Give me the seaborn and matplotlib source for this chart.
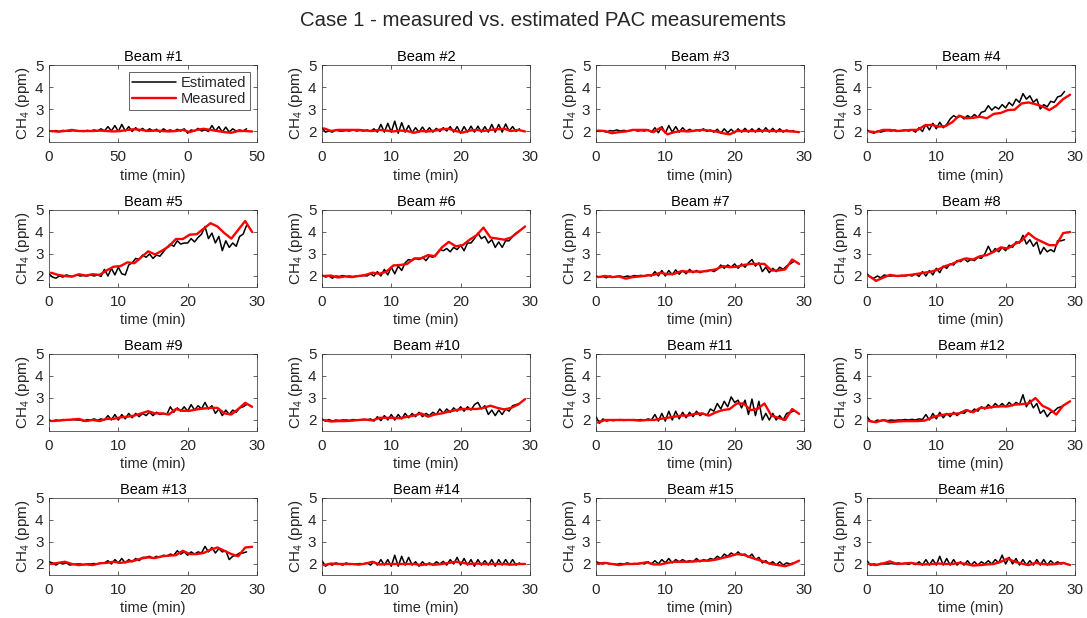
import matplotlib
matplotlib.use("Agg")
import matplotlib.pyplot as plt
import seaborn as sns

sns.set_theme(style="white")
plt.rcParams['font.family'] = ['Liberation Sans', 'DejaVu Sans']
plt.rcParams['mathtext.fontset'] = 'custom'
plt.rcParams['mathtext.rm'] = 'Liberation Sans'

# time grids (min)
t_est = [0, 0.5, 1, 1.5, 2, 2.5, 3, 3.5, 4, 4.5, 5, 5.5, 6, 6.5,
         7, 7.5, 8, 8.5, 9, 9.5, 10, 10.5, 11, 11.5, 12, 12.5, 13, 13.5,
         14, 14.5, 15, 15.5, 16, 16.5, 17, 17.5, 18, 18.5, 19, 19.5, 20, 20.5,
         21, 21.5, 22, 22.5, 23, 23.5, 24, 24.5, 25, 25.5, 26, 26.5, 27, 27.5, 28, 28.5]
t_meas = [0.3, 1.3, 2.3, 3.3, 4.3, 5.3, 6.3, 7.3, 8.3, 9.3, 10.3, 11.3, 12.3, 13.3, 14.3,
          15.3, 16.3, 17.3, 18.3, 19.3, 20.3, 21.3, 22.3, 23.3, 24.3, 25.3, 26.3, 27.3, 28.3, 29.3]

# estimated CH4 (ppm) per beam
est_1 = [2.0, 1.98, 2.02, 1.97, 2.03, 2.0, 2.0, 2.02, 2.0, 2.0, 1.98, 2.03, 2.0, 2.05,
         2.0, 2.1, 2.0, 2.2, 2.0, 2.25, 1.98, 2.3, 2.0, 2.2, 1.98, 2.15, 2.0, 2.12,
         1.98, 2.1, 2.0, 2.08, 1.95, 2.1, 2.0, 2.05, 1.98, 2.08, 2.0, 2.1, 1.9, 2.05,
         2.0, 2.12, 2.0, 2.05, 1.98, 2.25, 2.0, 2.2, 1.95, 2.18, 1.95, 2.1, 2.0, 2.05, 2.0, 2.1]
est_2 = [2.15, 1.95, 2.0, 1.95, 2.05, 2.0, 2.0, 2.02, 2.0, 2.05, 2.0, 2.03, 2.0, 2.05,
         1.98, 2.1, 1.95, 2.3, 1.95, 2.35, 1.95, 2.45, 1.9, 2.38, 1.95, 2.25, 1.92, 2.15,
         1.95, 2.18, 1.95, 2.15, 1.95, 2.12, 1.98, 2.15, 2.0, 2.2, 1.95, 2.2, 1.9, 2.2,
         1.95, 2.22, 1.95, 2.22, 1.95, 2.2, 1.95, 2.3, 1.95, 2.3, 1.95, 2.32, 2.0, 2.2, 1.98, 2.1]
est_3 = [2.0, 1.98, 2.0, 1.95, 2.02, 2.0, 2.05, 2.0, 2.03, 2.0, 2.02, 2.05, 2.0, 2.02,
         2.0, 2.05, 1.95, 2.15, 1.92, 2.2, 1.9, 2.25, 1.95, 2.2, 1.95, 2.15, 1.98, 2.08,
         1.98, 2.05, 2.0, 2.1, 1.98, 2.05, 1.95, 2.08, 1.9, 2.1, 1.92, 2.08, 1.92, 2.1,
         1.95, 2.12, 1.95, 2.1, 1.95, 2.12, 1.95, 2.15, 1.95, 2.12, 1.95, 2.1, 1.95, 2.05, 1.98, 2.02]
est_4 = [2.05, 1.95, 1.9, 2.0, 1.95, 2.0, 2.02, 2.0, 2.05, 2.0, 2.02, 2.05, 2.0, 2.05,
         1.95, 2.15, 1.98, 2.3, 2.05, 2.35, 2.1, 2.4, 2.15, 2.3, 2.55, 2.7, 2.6, 2.68,
         2.55, 2.7, 2.6, 2.75, 2.62, 2.85, 2.9, 3.15, 2.95, 3.1, 3.0, 3.2, 3.05, 3.3,
         3.15, 3.45, 3.3, 3.7, 3.45, 3.6, 3.3, 3.45, 3.0, 3.2, 3.1, 3.35, 3.3, 3.55, 3.6, 3.8]
est_5 = [2.1, 1.95, 1.9, 2.0, 1.95, 2.05, 2.0, 1.98, 2.05, 2.0, 2.02, 2.0, 2.05, 2.0,
         2.05, 1.98, 2.3, 2.0, 2.35, 2.05, 2.4, 2.1, 2.05, 2.5, 2.6, 2.8, 2.75, 2.95,
         2.85, 3.0, 2.8, 2.95, 2.9, 3.1, 3.3, 3.45, 3.35, 3.6, 3.45, 3.5, 3.5, 3.7,
         3.55, 3.75, 3.9, 4.25, 3.7, 3.95, 3.5, 3.8, 3.15, 3.6, 3.3, 3.5, 3.35, 3.8, 3.9, 4.3]
est_6 = [2.05, 1.95, 2.0, 1.9, 2.0, 1.98, 2.02, 1.98, 2.0, 1.97, 2.0, 2.0, 2.02, 2.0,
         2.1, 2.0, 2.2, 2.0, 2.3, 2.05, 2.4, 2.1, 2.45, 2.25, 2.6, 2.75, 2.7, 2.8,
         2.75, 2.85, 2.7, 2.9, 2.85, 3.0, 3.2, 3.15, 3.25, 3.1, 3.3, 3.2, 3.4, 3.15,
         3.5, 3.5, 3.7, 3.95, 3.7, 3.8, 3.5, 3.65, 3.3, 3.55, 3.3, 3.6, 3.6, 3.8, 3.95, 4.05]
est_7 = [2.0, 1.95, 1.98, 1.92, 2.0, 1.95, 1.98, 2.0, 1.95, 2.0, 1.97, 2.02, 2.0, 2.03,
         1.98, 2.05, 2.0, 2.2, 2.0, 2.25, 2.0, 2.25, 2.05, 2.28, 2.08, 2.25, 2.1, 2.3,
         2.15, 2.25, 2.15, 2.22, 2.2, 2.28, 2.2, 2.3, 2.5, 2.35, 2.5, 2.4, 2.55, 2.35,
         2.55, 2.4, 2.6, 2.75, 2.45, 2.6, 2.2, 2.4, 2.15, 2.35, 2.2, 2.4, 2.3, 2.45, 2.55, 2.65]
est_8 = [2.1, 1.95, 1.9, 2.0, 1.92, 2.05, 2.0, 2.0, 2.02, 1.98, 2.03, 2.0, 2.05, 2.0,
         2.1, 1.98, 2.2, 2.0, 2.25, 2.05, 2.35, 2.15, 2.45, 2.35, 2.55, 2.5, 2.7, 2.65,
         2.8, 2.65, 2.75, 2.7, 2.85, 2.8, 3.0, 3.35, 3.05, 3.25, 3.1, 3.3, 3.15, 3.4,
         3.3, 3.55, 3.5, 3.85, 3.45, 3.65, 3.35, 3.55, 3.0, 3.3, 3.1, 3.2, 3.1, 3.6, 3.6, 3.65]
est_9 = [2.0, 1.95, 2.0, 1.97, 2.02, 2.0, 2.0, 2.02, 2.0, 2.0, 1.95, 2.02, 2.0, 2.05,
         1.98, 2.05, 2.0, 2.2, 2.0, 2.25, 2.0, 2.25, 2.05, 2.3, 2.1, 2.3, 2.15, 2.3,
         2.2, 2.35, 2.2, 2.35, 2.25, 2.3, 2.25, 2.6, 2.35, 2.55, 2.4, 2.6, 2.4, 2.7,
         2.45, 2.65, 2.5, 2.8, 2.5, 2.65, 2.3, 2.5, 2.2, 2.45, 2.25, 2.45, 2.35, 2.55, 2.6, 2.7]
est_10 = [2.05, 1.95, 2.02, 1.95, 2.0, 1.98, 2.0, 2.0, 1.98, 2.02, 2.0, 2.0, 2.03, 2.0,
          2.05, 1.95, 2.15, 1.97, 2.2, 2.0, 2.25, 2.0, 2.25, 2.05, 2.3, 2.1, 2.3, 2.15,
          2.35, 2.15, 2.3, 2.2, 2.35, 2.25, 2.5, 2.3, 2.5, 2.35, 2.55, 2.4, 2.6, 2.4,
          2.6, 2.45, 2.7, 2.8, 2.5, 2.65, 2.25, 2.45, 2.2, 2.45, 2.25, 2.5, 2.4, 2.65, 2.7, 2.75]
est_11 = [2.15, 1.85, 2.05, 1.95, 2.0, 1.97, 2.0, 2.02, 1.98, 2.0, 2.0, 2.02, 2.0, 2.02,
          1.98, 2.05, 2.0, 2.25, 1.95, 2.3, 1.95, 2.4, 2.0, 2.4, 2.05, 2.35, 2.1, 2.35,
          2.15, 2.4, 2.2, 2.3, 2.2, 2.5, 2.4, 2.75, 2.5, 2.85, 2.6, 3.05, 2.8, 2.9,
          2.55, 2.9, 2.25, 2.95, 2.2, 2.85, 2.0, 2.3, 2.0, 2.3, 2.0, 2.2, 2.0, 2.3, 2.35, 2.4]
est_12 = [2.15, 1.95, 1.9, 2.0, 1.95, 2.0, 1.97, 2.0, 1.98, 2.0, 2.0, 2.02, 2.0, 2.03,
          2.0, 2.05, 2.02, 2.25, 2.0, 2.3, 2.05, 2.35, 2.1, 2.3, 2.15, 2.35, 2.2, 2.35,
          2.3, 2.45, 2.35, 2.5, 2.4, 2.6, 2.5, 2.7, 2.55, 2.75, 2.6, 2.75, 2.6, 2.8,
          2.65, 2.8, 2.7, 3.15, 2.6, 2.9, 2.55, 2.75, 2.3, 2.45, 2.15, 2.35, 2.4, 2.55, 2.6, 2.7]
est_13 = [2.1, 2.05, 1.95, 2.05, 2.0, 2.05, 1.95, 1.98, 2.0, 2.0, 1.97, 2.0, 2.0, 2.02,
          2.0, 2.05, 2.05, 2.15, 2.0, 2.2, 2.05, 2.25, 2.05, 2.2, 2.1, 2.25, 2.15, 2.3,
          2.3, 2.35, 2.25, 2.35, 2.3, 2.4, 2.35, 2.45, 2.4, 2.6, 2.45, 2.55, 2.4, 2.55,
          2.45, 2.55, 2.5, 2.8, 2.55, 2.75, 2.5, 2.7, 2.55, 2.6, 2.2, 2.35, 2.4, 2.5, 2.5, 2.55]
est_14 = [2.15, 1.9, 2.0, 1.95, 2.05, 2.0, 1.95, 2.05, 1.98, 2.0, 2.0, 2.02, 2.0, 2.05,
          1.95, 2.1, 1.95, 2.2, 1.95, 2.2, 1.9, 2.4, 1.9, 2.35, 1.95, 2.3, 1.95, 2.1,
          1.9, 2.1, 1.95, 2.05, 1.95, 2.1, 2.0, 2.12, 1.95, 2.2, 2.0, 2.3, 1.95, 2.25,
          1.95, 2.2, 1.9, 2.2, 1.95, 2.15, 1.95, 2.2, 1.9, 2.2, 1.95, 2.2, 1.95, 2.2, 1.95, 2.05]
est_15 = [2.1, 2.05, 2.0, 2.05, 2.0, 2.0, 1.98, 2.02, 2.0, 2.05, 2.0, 2.02, 2.0, 2.05,
          2.0, 2.1, 2.0, 2.15, 2.0, 2.2, 2.05, 2.25, 2.05, 2.2, 2.1, 2.2, 2.1, 2.15,
          2.1, 2.25, 2.1, 2.2, 2.15, 2.25, 2.2, 2.35, 2.25, 2.45, 2.35, 2.5, 2.4, 2.55,
          2.4, 2.45, 2.3, 2.45, 2.2, 2.3, 2.05, 2.15, 2.0, 2.1, 1.95, 2.1, 1.95, 2.05, 2.0, 2.05]
est_16 = [2.15, 1.95, 2.0, 1.97, 2.03, 2.0, 2.0, 2.02, 2.0, 2.05, 2.0, 2.03, 1.98, 2.05,
          1.97, 2.1, 1.95, 2.2, 1.95, 2.2, 1.95, 2.35, 1.95, 2.25, 1.95, 2.2, 1.95, 2.1,
          1.95, 2.15, 1.95, 2.1, 1.95, 2.1, 2.0, 2.15, 2.0, 2.2, 2.05, 2.4, 2.0, 2.3,
          2.0, 2.25, 1.95, 2.2, 1.95, 2.15, 1.95, 2.2, 1.95, 2.2, 1.95, 2.15, 2.0, 2.1, 2.0, 2.05]

# measured CH4 (ppm) per beam
meas_1 = [2.0, 1.97, 2.0, 2.05, 2.0, 2.0, 2.0, 2.02, 2.0, 1.98, 2.0, 2.05, 2.08, 2.05, 2.0,
          2.02, 2.0, 1.98, 2.0, 2.05, 1.95, 2.05, 2.1, 2.05, 2.0, 1.95, 1.92, 2.0, 2.0, 1.98]
meas_2 = [2.12, 2.0, 2.05, 2.05, 2.05, 2.05, 2.02, 2.0, 2.05, 2.02, 1.98, 2.02, 2.0, 1.92, 2.0,
          1.98, 2.02, 2.08, 2.1, 2.0, 1.93, 2.02, 2.05, 2.0, 2.05, 2.08, 2.1, 2.0, 2.05, 1.98]
meas_3 = [2.02, 2.0, 1.9, 1.95, 1.98, 2.05, 2.05, 2.05, 1.95, 2.15, 1.85, 1.95, 2.0, 1.98, 2.02,
          2.05, 2.02, 1.98, 1.9, 1.85, 2.0, 2.0, 2.0, 2.0, 2.02, 2.0, 2.0, 2.0, 1.98, 1.95]
meas_4 = [1.98, 1.95, 2.05, 2.05, 2.0, 2.02, 2.05, 2.05, 2.25, 2.28, 2.2, 2.22, 2.4, 2.7, 2.58,
          2.6, 2.65, 2.58, 2.78, 2.82, 2.95, 2.97, 3.25, 3.3, 3.22, 3.12, 2.95, 3.15, 3.45, 3.65]
meas_5 = [2.15, 2.05, 2.0, 1.97, 2.08, 2.02, 2.08, 2.05, 2.25, 2.42, 2.45, 2.62, 2.58, 2.85, 3.12,
          2.98, 3.15, 3.35, 3.68, 3.68, 3.88, 3.9, 4.15, 4.4, 4.25, 3.95, 3.7, 4.1, 4.5, 4.0]
meas_6 = [2.0, 2.02, 1.93, 1.98, 1.95, 2.0, 2.05, 2.15, 2.1, 2.2, 2.48, 2.5, 2.55, 2.8, 2.8,
          2.95, 2.9, 3.3, 3.55, 3.35, 3.4, 3.65, 3.85, 4.2, 3.75, 3.7, 3.65, 3.75, 4.0, 4.25]
meas_7 = [1.95, 2.0, 1.95, 1.98, 1.88, 1.95, 1.98, 2.02, 2.05, 2.15, 2.08, 2.1, 2.22, 2.2, 2.2,
          2.2, 2.25, 2.3, 2.45, 2.4, 2.42, 2.5, 2.55, 2.55, 2.55, 2.25, 2.25, 2.3, 2.75, 2.55]
meas_8 = [2.0, 1.78, 1.92, 2.05, 2.0, 2.02, 2.05, 2.1, 2.15, 2.2, 2.3, 2.45, 2.55, 2.7, 2.8,
          2.75, 2.9, 2.95, 3.1, 3.3, 3.25, 3.45, 3.6, 3.95, 3.7, 3.55, 3.4, 3.4, 3.95, 4.0]
meas_9 = [1.95, 1.97, 2.0, 2.02, 2.05, 1.95, 2.0, 1.95, 2.05, 2.05, 2.12, 2.15, 2.2, 2.3, 2.4,
          2.3, 2.3, 2.25, 2.5, 2.42, 2.42, 2.48, 2.52, 2.55, 2.55, 2.3, 2.25, 2.5, 2.78, 2.6]
meas_10 = [2.0, 1.93, 1.95, 1.95, 1.97, 2.0, 2.02, 1.98, 2.1, 2.1, 2.1, 2.08, 2.15, 2.2, 2.3,
           2.15, 2.25, 2.3, 2.38, 2.45, 2.5, 2.5, 2.5, 2.55, 2.65, 2.55, 2.48, 2.55, 2.7, 2.95]
meas_11 = [1.88, 2.0, 2.0, 2.0, 2.0, 2.0, 1.97, 2.0, 2.0, 2.05, 2.1, 2.15, 2.2, 2.2, 2.28,
           2.3, 2.2, 2.35, 2.45, 2.5, 2.75, 2.75, 2.45, 2.5, 2.75, 2.2, 2.1, 2.0, 2.5, 2.28]
meas_12 = [1.95, 1.9, 2.0, 1.9, 1.93, 1.95, 1.95, 1.95, 1.97, 2.1, 2.2, 2.25, 2.28, 2.3, 2.45,
           2.35, 2.55, 2.55, 2.6, 2.62, 2.62, 2.7, 2.72, 2.75, 3.0, 2.65, 2.5, 2.25, 2.65, 2.85]
meas_13 = [2.0, 2.05, 2.1, 2.0, 1.95, 1.98, 1.95, 2.03, 2.05, 2.1, 2.05, 2.1, 2.15, 2.25, 2.3,
           2.27, 2.35, 2.38, 2.4, 2.6, 2.45, 2.45, 2.5, 2.65, 2.75, 2.6, 2.45, 2.35, 2.75, 2.78]
meas_14 = [1.95, 2.02, 2.0, 2.0, 2.0, 1.97, 2.02, 2.1, 1.98, 2.0, 2.0, 2.0, 2.0, 2.0, 1.95,
           2.0, 1.97, 2.0, 2.05, 2.1, 2.05, 2.0, 2.02, 2.0, 2.0, 2.0, 2.0, 1.97, 2.0, 2.0]
meas_15 = [2.02, 2.05, 2.0, 1.95, 2.0, 2.0, 2.02, 2.08, 1.98, 1.98, 2.05, 2.1, 2.1, 2.1, 2.12,
           2.15, 2.15, 2.2, 2.28, 2.35, 2.45, 2.42, 2.3, 2.2, 2.1, 2.0, 1.95, 1.9, 2.0, 2.15]
meas_16 = [2.0, 1.95, 2.02, 2.12, 2.0, 2.02, 2.05, 2.0, 1.98, 2.0, 2.02, 2.0, 2.0, 2.05, 2.0,
           1.93, 1.95, 1.98, 2.0, 2.1, 2.25, 2.1, 2.02, 1.95, 2.05, 2.0, 1.98, 2.0, 2.05, 1.95]

estimated = [est_1, est_2, est_3, est_4, est_5, est_6, est_7, est_8,
             est_9, est_10, est_11, est_12, est_13, est_14, est_15, est_16]
measured = [meas_1, meas_2, meas_3, meas_4, meas_5, meas_6, meas_7, meas_8,
            meas_9, meas_10, meas_11, meas_12, meas_13, meas_14, meas_15, meas_16]
beam_titles = ["Beam #%d" % (i + 1) for i in range(16)]
x_ticks = [0, 10, 20, 30]
x_ticklabels_beam1 = ["0", "50", "0", "50"]
y_ticks = [2, 3, 4, 5]

fig = plt.figure(figsize=(10.87, 6.18), dpi=100)
col_left = [0.0451, 0.2962, 0.5483, 0.7976]
row_bottom = [0.7702, 0.5356, 0.3026, 0.0696]
ax_w, ax_h = 0.1913, 0.1246
axis_col = '#262626'

for i in range(16):
    r, c = divmod(i, 4)
    ax = fig.add_axes([col_left[c], row_bottom[r], ax_w, ax_h])
    sns.lineplot(x=t_est, y=estimated[i], color='black', linewidth=1.1,
                 ax=ax, label='Estimated' if i == 0 else None)
    sns.lineplot(x=t_meas, y=measured[i], color='#ff0000', linewidth=1.7,
                 ax=ax, label='Measured' if i == 0 else None)
    ax.set_xlim(0, 30)
    ax.set_ylim(1.5, 5)
    ax.set_xticks(x_ticks)
    if i == 0:
        ax.set_xticklabels(x_ticklabels_beam1)
    ax.set_yticks(y_ticks)
    ax.tick_params(direction='in', length=3, width=0.5, colors=axis_col,
                   labelsize=11, top=True, right=True, bottom=True, left=True)
    ax.tick_params(axis='x', pad=6)
    ax.tick_params(axis='y', pad=4)
    for sp in ax.spines.values():
        sp.set_color(axis_col)
        sp.set_linewidth(0.5)
    ax.set_title(beam_titles[i], fontsize=10.5, pad=3, color='black')
    ax.set_xlabel("time (min)", fontsize=10.5, color=axis_col, labelpad=3)
    ax.set_ylabel(r"$\mathregular{CH_4}$ (ppm)", fontsize=11, color=axis_col, labelpad=2)
    if i == 0:
        leg = ax.legend(loc='upper right', fontsize=10.5, frameon=True, fancybox=False,
                        handlelength=3.0, borderpad=0.25, labelspacing=0.15,
                        handletextpad=0.3, borderaxespad=0.5)
        leg.get_frame().set_edgecolor(axis_col)
        leg.get_frame().set_linewidth(0.5)
        leg.get_frame().set_alpha(1)
    elif ax.get_legend() is not None:
        ax.get_legend().remove()

fig.suptitle("Case 1 - measured vs. estimated PAC measurements", fontsize=14.7, y=0.982)
fig.savefig("out.png", dpi=100, facecolor='white')
